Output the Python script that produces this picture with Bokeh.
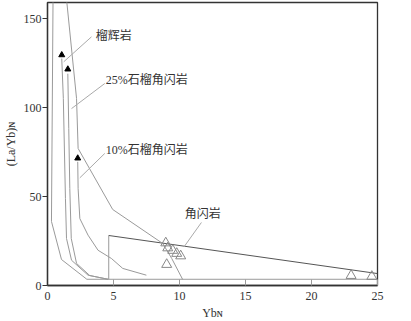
from bokeh.plotting import figure
from bokeh.models import Range1d, FixedTicker
from bokeh.core.properties import value
from bokeh.embed import file_html
from bokeh.resources import INLINE

# ---- data (YbN, (La/Yb)N) ----
outer_left_x = [0.42, 0.30, 1.06, 2.98, 25.0]
outer_left_y = [161.0, 36.0, 14.6, 3.5, 3.5]

outer_right_x = [1.44, 2.20, 2.32, 4.94, 8.73, 9.41, 10.24]
outer_right_y = [161.0, 105.1, 77.0, 42.7, 23.6, 15.2, 3.4]

eclogite_x = [1.08, 1.20, 1.36, 1.44, 1.82, 3.07, 4.59]
eclogite_y = [127.5, 105.1, 48.9, 26.4, 14.2, 5.8, 3.5]

amph25_x = [1.54, 1.61, 1.69, 1.80, 2.20, 3.20, 4.59]
amph25_y = [119.0, 88.2, 54.5, 26.4, 12.4, 5.6, 3.5]

amph10_x = [2.29, 2.32, 2.45, 3.07, 3.83, 4.84, 5.70, 7.49]
amph10_y = [69.5, 54.5, 37.6, 28.3, 19.8, 15.2, 9.6, 5.8]

arrow_x = [1.08, 1.54, 2.29]
arrow_y = [129.5, 121.5, 71.5]

field_x = [4.64, 4.64, 25.0, 25.0]
field_y = [3.5, 28.1, 6.7, 3.5]

sample_x = [8.96, 9.11, 9.49, 9.79, 10.09, 9.03, 23.0, 24.57]
sample_y = [23.9, 21.1, 19.7, 18.0, 16.6, 11.8, 5.6, 5.1]

labels = ["榴辉岩", "25%石榴角闪岩", "10%石榴角闪岩", "角闪岩"]
label_x = [3.66, 4.42, 4.42, 10.39]
label_y = [140.4, 115.3, 76.0, 40.2]
leader_x0 = [3.33, 4.34, 4.34, 11.66]
leader_y0 = [139.7, 113.5, 74.2, 35.4]
leader_x1 = [1.23, 1.82, 2.45, 10.34]
leader_y1 = [125.7, 99.4, 60.5, 21.7]

x_ticks = [0, 5, 10, 15, 20, 25]
y_ticks = [0, 50, 100, 150]

GRAY = "#9a9a9a"
DARK = "#333333"

p = figure(frame_width=330, frame_height=283, output_backend="svg",
           toolbar_location=None, x_range=Range1d(0, 25), y_range=Range1d(0, 159.0),
           min_border_left=36, min_border_top=2, min_border_right=8, min_border_bottom=0,
           background_fill_color="white", border_fill_color="white")
p.grid.visible = False
p.outline_line_color = DARK
p.outline_line_width = 1.3

for ax in (p.xaxis[0], p.yaxis[0]):
    ax.axis_line_color = DARK
    ax.axis_line_width = 1.3
    ax.major_tick_line_color = GRAY
    ax.minor_tick_line_color = None
    ax.major_label_text_font = "Liberation Serif"
    ax.major_label_text_font_size = "12px"
    ax.major_label_text_color = DARK
    ax.axis_label_text_font = "Liberation Serif"
    ax.axis_label_text_font_size = "12px"
    ax.axis_label_text_font_style = "normal"
    ax.axis_label_text_color = DARK

p.xaxis.ticker = FixedTicker(ticks=x_ticks)
p.yaxis.ticker = FixedTicker(ticks=y_ticks)
p.xaxis.major_tick_in = 6
p.xaxis.major_tick_out = 0
p.xaxis.major_label_standoff = 6
p.xaxis.axis_label_standoff = 3
p.xaxis.axis_label = "Ybɴ"
p.yaxis.major_tick_in = 0
p.yaxis.major_tick_out = 5
p.yaxis.major_tick_line_color = DARK
p.yaxis.major_label_standoff = 1
p.yaxis.axis_label_standoff = 3
p.yaxis.axis_label = "(La/Yb)ɴ"

# field polygon
p.line([field_x[0], field_x[1]], [field_y[0], field_y[1]], line_color=GRAY, line_width=1)
p.line([field_x[1], field_x[2]], [field_y[1], field_y[2]], line_color="#555555", line_width=1)

p.line(outer_left_x, outer_left_y, line_color=GRAY, line_width=1)
p.line(outer_right_x, outer_right_y, line_color=GRAY, line_width=1)
p.line(eclogite_x, eclogite_y, line_color=GRAY, line_width=1)
p.line(amph25_x, amph25_y, line_color=GRAY, line_width=1)
p.line(amph10_x, amph10_y, line_color=GRAY, line_width=1)
p.scatter(arrow_x, arrow_y, marker="triangle", size=6, fill_color="black", line_color="black")

p.segment(leader_x0, leader_y0, leader_x1, leader_y1, line_color="#aaaaaa", line_width=1)
p.text(label_x, label_y, text=labels, text_font=value("Liberation Serif, Noto Sans CJK SC"),
       text_font_size="12px", text_baseline="middle", text_align="left", text_color=DARK)

p.scatter(sample_x, sample_y, marker="triangle", size=10, fill_color=None,
          line_color="#888888", line_width=1)

open("out.html", "w").write(file_html(p, INLINE))
